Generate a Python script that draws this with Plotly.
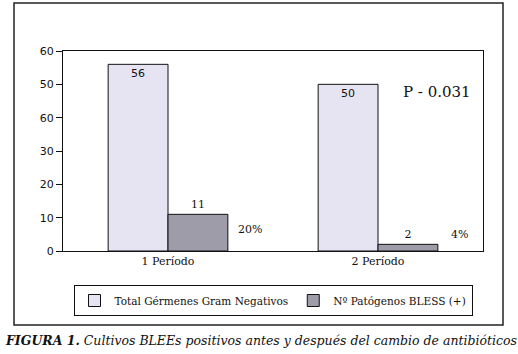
import plotly.graph_objects as go

categories = ["1 Período", "2 Período"]
total_gram_neg = [56, 50]
patogenos_bless = [11, 2]
percent_labels = ["20%", "4%"]
p_value_text = "P - 0.031"
y_tick_vals = [0, 10, 20, 30, 40, 50, 60]
y_tick_text = ["0", "10", "20", "30", "60", "50", "60"]

W, H = 518, 354
L, R, T, B = 63, 35, 51, 103
pw, ph = W - L - R, H - T - B

def px_x(x):
    return (x - L) / pw

def px_y(y):
    return (H - B - y) / ph

serif = "DejaVu Serif"
sans = "DejaVu Sans"

fig = go.Figure()
fig.add_trace(go.Bar(
    x=categories, y=total_gram_neg, name="Total Gérmenes Gram Negativos",
    marker=dict(color="#e6e3f3", line=dict(color="#111111", width=1)),
    text=[str(v) for v in total_gram_neg], textposition="inside",
    insidetextanchor="end",
    textfont=dict(family=sans, size=11, color="#111111"),
))
fig.add_trace(go.Bar(
    x=categories, y=patogenos_bless, name="Nº Patógenos BLESS (+)",
    marker=dict(color="#9d9ca8", line=dict(color="#111111", width=1)),
    text=[str(v) for v in patogenos_bless], textposition="outside",
    textfont=dict(family=serif, size=11, color="#111111"),
    cliponaxis=False,
))

for i, lab in enumerate(percent_labels):
    fig.add_annotation(x=i + 0.39, y=[6.6, 5.1][i], xref="x", yref="y",
                       text=lab, showarrow=False,
                       font=dict(family=serif, size=11, color="#111111"))
fig.add_annotation(x=1.28, y=47.7, xref="x", yref="y", text=p_value_text,
                   showarrow=False, font=dict(family=serif, size=15, color="#111111"))

fig.add_annotation(
    x=px_x(3), y=px_y(340), xref="paper", yref="paper", xanchor="left", yanchor="middle",
    text="<b><i>FIGURA 1.</i></b><i> Cultivos BLEEs positivos antes y después del cambio de antibióticos</i>",
    showarrow=False, font=dict(family=serif, size=12.5, color="#111111"))

fig.add_shape(type="rect", xref="paper", yref="paper",
              x0=px_x(14), x1=px_x(503), y0=px_y(325), y1=px_y(3),
              line=dict(color="#222222", width=1.5), fillcolor="rgba(0,0,0,0)")

fig.update_layout(
    width=W, height=H, margin=dict(l=L, r=R, t=T, b=B, autoexpand=False),
    paper_bgcolor="white", plot_bgcolor="white",
    barmode="group", bargap=0.43, bargroupgap=0,
    font=dict(family=serif, size=11, color="#111111"),
    legend=dict(orientation="h", x=px_x(273), xanchor="center", y=px_y(285), yanchor="top",
                bordercolor="#111111", borderwidth=1, bgcolor="white",
                font=dict(family=serif, size=10.5, color="#111111"),
                itemwidth=30, traceorder="normal"),
    showlegend=True,
)
fig.update_xaxes(showline=True, linecolor="#111111", linewidth=1, mirror=True,
                 ticks="", tickfont=dict(family=serif, size=11, color="#111111"),
                 showgrid=False)
fig.update_yaxes(range=[0, 60], tickvals=y_tick_vals, ticktext=y_tick_text,
                 showline=True, linecolor="#111111", linewidth=1, mirror=True,
                 ticks="outside", ticklen=6, tickcolor="#111111",
                 tickfont=dict(family=sans, size=11, color="#111111"),
                 showgrid=False, zeroline=False)

fig.write_html("out.html", config={"displayModeBar": False},
               post_script="document.body.style.margin='0';document.body.style.padding='0';")
